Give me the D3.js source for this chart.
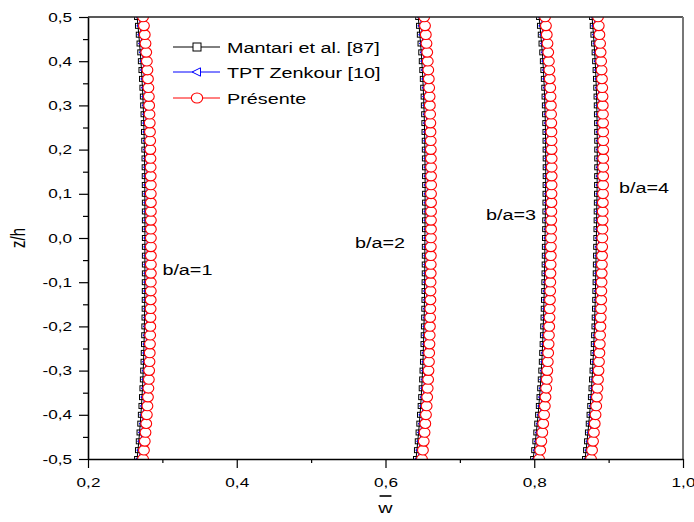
<!DOCTYPE html>
<html><head><meta charset="utf-8">
<script src="https://cdn.jsdelivr.net/npm/d3@7"></script>
<style>
body{margin:0;background:#fff}
svg{display:block}
text{font-family:"Liberation Sans",Arial,Helvetica,sans-serif;fill:#000}
</style>
</head><body>
<svg id="c" width="694" height="522"></svg>
<script>
// ---------------- DATA ----------------
const zValues=[-0.50,-0.48,-0.46,-0.44,-0.42,-0.40,-0.38,-0.36,-0.34,-0.32,-0.30,-0.28,-0.26,-0.24,-0.22,-0.20,-0.18,-0.16,-0.14,-0.12,-0.10,-0.08,-0.06,-0.04,-0.02,0.00,0.02,0.04,0.06,0.08,0.10,0.12,0.14,0.16,0.18,0.20,0.22,0.24,0.26,0.28,0.30,0.32,0.34,0.36,0.38,0.40,0.42,0.44,0.46,0.48,0.50];

const ratioLabels=["b/a=1","b/a=2","b/a=3","b/a=4"];
const seriesNames=["Mantari et al. [87]","TPT Zenkour [10]","Présente"];

// Mantari et al. [87]
const mantariBa1=[0.2660,0.2672,0.2683,0.2693,0.2703,0.2711,0.2719,0.2726,0.2732,0.2738,0.2742,0.2747,0.2750,0.2753,0.2756,0.2758,0.2760,0.2762,0.2763,0.2764,0.2764,0.2765,0.2765,0.2765,0.2765,0.2765,0.2765,0.2765,0.2765,0.2765,0.2764,0.2764,0.2763,0.2762,0.2760,0.2758,0.2756,0.2753,0.2750,0.2747,0.2742,0.2738,0.2732,0.2726,0.2719,0.2711,0.2703,0.2693,0.2683,0.2672,0.2660];
const mantariBa2=[0.6410,0.6423,0.6434,0.6445,0.6455,0.6464,0.6473,0.6480,0.6487,0.6493,0.6498,0.6504,0.6507,0.6511,0.6514,0.6517,0.6520,0.6522,0.6524,0.6525,0.6526,0.6528,0.6528,0.6529,0.6529,0.6530,0.6531,0.6531,0.6532,0.6532,0.6532,0.6533,0.6532,0.6532,0.6530,0.6529,0.6528,0.6525,0.6523,0.6520,0.6516,0.6513,0.6507,0.6502,0.6495,0.6488,0.6481,0.6471,0.6462,0.6451,0.6440];
const mantariBa3=[0.7985,0.8000,0.8015,0.8028,0.8040,0.8052,0.8062,0.8071,0.8080,0.8088,0.8095,0.8102,0.8107,0.8113,0.8117,0.8121,0.8125,0.8128,0.8131,0.8134,0.8136,0.8138,0.8140,0.8142,0.8143,0.8145,0.8147,0.8148,0.8150,0.8151,0.8152,0.8153,0.8154,0.8154,0.8154,0.8153,0.8152,0.8151,0.8149,0.8146,0.8143,0.8139,0.8135,0.8129,0.8123,0.8116,0.8108,0.8098,0.8088,0.8077,0.8065];
const mantariBa4=[0.8683,0.8697,0.8710,0.8722,0.8733,0.8744,0.8753,0.8762,0.8770,0.8777,0.8784,0.8790,0.8796,0.8801,0.8805,0.8810,0.8813,0.8817,0.8820,0.8822,0.8825,0.8827,0.8829,0.8831,0.8833,0.8835,0.8837,0.8839,0.8840,0.8842,0.8844,0.8845,0.8846,0.8847,0.8847,0.8847,0.8847,0.8846,0.8845,0.8843,0.8841,0.8838,0.8834,0.8830,0.8825,0.8819,0.8812,0.8805,0.8796,0.8787,0.8777];

// TPT Zenkour [10]
const zenkourBa1=[0.2690,0.2702,0.2713,0.2723,0.2733,0.2741,0.2749,0.2756,0.2762,0.2768,0.2772,0.2777,0.2780,0.2783,0.2786,0.2788,0.2790,0.2792,0.2793,0.2794,0.2794,0.2795,0.2795,0.2795,0.2795,0.2795,0.2795,0.2795,0.2795,0.2795,0.2794,0.2794,0.2793,0.2792,0.2790,0.2788,0.2786,0.2783,0.2780,0.2777,0.2772,0.2768,0.2762,0.2756,0.2749,0.2741,0.2733,0.2723,0.2713,0.2702,0.2690];
const zenkourBa2=[0.6440,0.6453,0.6464,0.6475,0.6485,0.6494,0.6503,0.6510,0.6517,0.6523,0.6528,0.6534,0.6537,0.6541,0.6544,0.6547,0.6550,0.6552,0.6554,0.6555,0.6556,0.6558,0.6558,0.6559,0.6559,0.6560,0.6561,0.6561,0.6562,0.6562,0.6562,0.6563,0.6562,0.6562,0.6560,0.6559,0.6558,0.6555,0.6553,0.6550,0.6546,0.6543,0.6537,0.6532,0.6525,0.6518,0.6511,0.6501,0.6492,0.6481,0.6470];
const zenkourBa3=[0.8015,0.8030,0.8045,0.8058,0.8070,0.8082,0.8092,0.8101,0.8110,0.8118,0.8125,0.8132,0.8137,0.8143,0.8147,0.8151,0.8155,0.8158,0.8161,0.8164,0.8166,0.8168,0.8170,0.8172,0.8173,0.8175,0.8177,0.8178,0.8180,0.8181,0.8182,0.8183,0.8184,0.8184,0.8184,0.8183,0.8182,0.8181,0.8179,0.8176,0.8173,0.8169,0.8165,0.8159,0.8153,0.8146,0.8138,0.8128,0.8118,0.8107,0.8095];
const zenkourBa4=[0.8713,0.8727,0.8740,0.8752,0.8763,0.8774,0.8783,0.8792,0.8800,0.8807,0.8814,0.8820,0.8826,0.8831,0.8835,0.8840,0.8843,0.8847,0.8850,0.8852,0.8855,0.8857,0.8859,0.8861,0.8863,0.8865,0.8867,0.8869,0.8870,0.8872,0.8874,0.8875,0.8876,0.8877,0.8877,0.8877,0.8877,0.8876,0.8875,0.8873,0.8871,0.8868,0.8864,0.8860,0.8855,0.8849,0.8842,0.8835,0.8826,0.8817,0.8807];

// Présente
const presenteBa1=[0.2740,0.2752,0.2763,0.2773,0.2783,0.2791,0.2799,0.2806,0.2812,0.2818,0.2822,0.2827,0.2830,0.2833,0.2836,0.2838,0.2840,0.2842,0.2843,0.2844,0.2844,0.2845,0.2845,0.2845,0.2845,0.2845,0.2845,0.2845,0.2845,0.2845,0.2844,0.2844,0.2843,0.2842,0.2840,0.2838,0.2836,0.2833,0.2830,0.2827,0.2822,0.2818,0.2812,0.2806,0.2799,0.2791,0.2783,0.2773,0.2763,0.2752,0.2740];
const presenteBa2=[0.6490,0.6503,0.6514,0.6525,0.6535,0.6544,0.6553,0.6560,0.6567,0.6573,0.6578,0.6584,0.6587,0.6591,0.6594,0.6597,0.6600,0.6602,0.6604,0.6605,0.6606,0.6608,0.6608,0.6609,0.6609,0.6610,0.6611,0.6611,0.6612,0.6612,0.6612,0.6613,0.6612,0.6612,0.6610,0.6609,0.6608,0.6605,0.6603,0.6600,0.6596,0.6593,0.6587,0.6582,0.6575,0.6568,0.6561,0.6551,0.6542,0.6531,0.6520];
const presenteBa3=[0.8065,0.8080,0.8095,0.8108,0.8120,0.8132,0.8142,0.8151,0.8160,0.8168,0.8175,0.8182,0.8187,0.8193,0.8197,0.8201,0.8205,0.8208,0.8211,0.8214,0.8216,0.8218,0.8220,0.8222,0.8223,0.8225,0.8227,0.8228,0.8230,0.8231,0.8232,0.8233,0.8234,0.8234,0.8234,0.8233,0.8232,0.8231,0.8229,0.8226,0.8223,0.8219,0.8215,0.8209,0.8203,0.8196,0.8188,0.8178,0.8168,0.8157,0.8145];
const presenteBa4=[0.8763,0.8777,0.8790,0.8802,0.8813,0.8824,0.8833,0.8842,0.8850,0.8857,0.8864,0.8870,0.8876,0.8881,0.8885,0.8890,0.8893,0.8897,0.8900,0.8902,0.8905,0.8907,0.8909,0.8911,0.8913,0.8915,0.8917,0.8919,0.8920,0.8922,0.8924,0.8925,0.8926,0.8927,0.8927,0.8927,0.8927,0.8926,0.8925,0.8923,0.8921,0.8918,0.8914,0.8910,0.8905,0.8899,0.8892,0.8885,0.8876,0.8867,0.8857];

const xTicks=[0.2,0.4,0.6,0.8,1.0];
const xMinorTicks=[0.3,0.5,0.7,0.9];
const yTicks=[-0.5,-0.4,-0.3,-0.2,-0.1,0.0,0.1,0.2,0.3,0.4,0.5];
const yMinorTicks=[-0.45,-0.35,-0.25,-0.15,-0.05,0.05,0.15,0.25,0.35,0.45];
// label anchor points in data coordinates [w, z]
const ratioLabelPos=[[0.300,-0.084],[0.559,-0.023],[0.735,0.041],[0.914,0.102]];

// ---------------- CHART ----------------
const svg=d3.select("#c");
const L=88,R=683,T=17,B=459;
const x=d3.scaleLinear().domain([0.2,1.0]).range([L,R]);
const y=d3.scaleLinear().domain([-0.5,0.5]).range([B,T]);
const SX=1.32; // horizontal stretch of the original figure
const fmt=v=>(v<-1e-9?"-":"")+Math.abs(v).toFixed(1).replace(".",",");

svg.append("defs").append("clipPath").attr("id","plotclip")
  .append("rect").attr("x",L).attr("y",T).attr("width",R-L).attr("height",B-T);

const series=[
  {name:seriesNames[0],color:"#000000",marker:"square",data:[mantariBa1,mantariBa2,mantariBa3,mantariBa4]},
  {name:seriesNames[1],color:"#0000ff",marker:"triangle",data:[zenkourBa1,zenkourBa2,zenkourBa3,zenkourBa4]},
  {name:seriesNames[2],color:"#ff0000",marker:"circle",data:[presenteBa1,presenteBa2,presenteBa3,presenteBa4]}
];

function drawMarker(sel,type,color,s,fill){
  if(type==="square"){
    sel.append("rect").attr("x",-2.5*s).attr("y",-2.5*s).attr("width",5*s).attr("height",5*s)
      .attr("fill",fill).attr("stroke",color).attr("stroke-width",1);
  }else if(type==="triangle"){
    sel.append("path").attr("d",`M${-3.5*s},0L${2.5*s},${-3*s}L${2.5*s},${3*s}Z`)
      .attr("fill",fill).attr("stroke",color).attr("stroke-width",1);
  }else{
    sel.append("ellipse").attr("rx",5.4*s).attr("ry",4.8*s)
      .attr("fill","#fff").attr("stroke",color).attr("stroke-width",1.1);
  }
}

const plot=svg.append("g").attr("clip-path","url(#plotclip)");
const line=d3.line().x(d=>x(d[0])).y(d=>y(d[1]));
series.forEach(s=>{
  s.data.forEach(vals=>{
    const pts=vals.map((w,k)=>[w,zValues[k]]);
    plot.append("path").attr("d",line(pts)).attr("fill","none")
      .attr("stroke",s.color).attr("stroke-width",1);
    const g=plot.append("g");
    pts.forEach(p=>{
      const m=g.append("g").attr("transform",`translate(${x(p[0])},${y(p[1])})`);
      drawMarker(m,s.marker,s.color,1,"none");
    });
  });
});

// frame (top black, right grey)
svg.append("line").attr("x1",L).attr("x2",R).attr("y1",T).attr("y2",T)
  .attr("stroke","#222").attr("stroke-width",1.5);
svg.append("line").attr("x1",R).attr("x2",R).attr("y1",T).attr("y2",B)
  .attr("stroke","#777").attr("stroke-width",2);

// axes
const xAxis=svg.append("g").attr("transform",`translate(0,${B})`)
  .call(d3.axisBottom(x).tickValues(xTicks).tickSize(9).tickSizeOuter(0).tickPadding(10).tickFormat(fmt));
svg.append("g").attr("transform",`translate(0,${B})`)
  .call(d3.axisBottom(x).tickValues(xMinorTicks).tickSize(4).tickSizeOuter(0).tickFormat(""))
  .select(".domain").remove();
const yAxis=svg.append("g").attr("transform",`translate(${L},0)`)
  .call(d3.axisLeft(y).tickValues(yTicks).tickSize(9).tickSizeOuter(0).tickFormat(fmt));
svg.append("g").attr("transform",`translate(${L},0)`)
  .call(d3.axisLeft(y).tickValues(yMinorTicks).tickSize(5).tickSizeOuter(0).tickFormat(""))
  .select(".domain").remove();

svg.selectAll(".tick line").attr("stroke","#000").attr("stroke-width",1.2);
svg.selectAll(".domain").attr("stroke","#000").attr("stroke-width",1.6);
xAxis.selectAll("text").attr("font-size",13).attr("font-family",'"Liberation Sans",Arial,sans-serif')
  .attr("transform",`scale(${SX},1)`);
yAxis.selectAll("text").attr("font-size",13).attr("font-family",'"Liberation Sans",Arial,sans-serif')
  .attr("x",-16/SX).attr("transform",`scale(${SX},1)`);

// axis titles
const xTitle=svg.append("g").attr("transform",`translate(${(L+R)/2},513) scale(${SX},1)`);
xTitle.append("text").attr("text-anchor","middle").attr("font-size",15).text("w");
xTitle.append("line").attr("x1",-4.5).attr("x2",4.5).attr("y1",-17).attr("y2",-17)
  .attr("stroke","#000").attr("stroke-width",1.6);
svg.append("g").attr("transform",`translate(25,${(T+B)/2}) rotate(-90) scale(1,${SX})`)
  .append("text").attr("text-anchor","middle").attr("font-size",15).text("z/h");

// ratio labels
ratioLabels.forEach((t,i)=>{
  svg.append("g").attr("transform",`translate(${x(ratioLabelPos[i][0])},${y(ratioLabelPos[i][1])}) scale(${SX},1)`)
    .append("text").attr("font-size",15).text(t);
});

// legend
const legendY=[47,72,98];
const legendScale={square:1.6,triangle:1.4,circle:1.05};
series.forEach((s,i)=>{
  const g=svg.append("g").attr("transform",`translate(173,${legendY[i]})`);
  g.append("line").attr("x1",0).attr("x2",47).attr("y1",0).attr("y2",0)
    .attr("stroke",s.color).attr("stroke-width",1);
  const m=g.append("g").attr("transform","translate(24,0)");
  drawMarker(m,s.marker,s.color,legendScale[s.marker],"#fff");
  g.append("g").attr("transform",`translate(54,0) scale(${SX},1)`)
    .append("text").attr("y",5.5).attr("font-size",15).text(s.name);
});
</script>
</body></html>
